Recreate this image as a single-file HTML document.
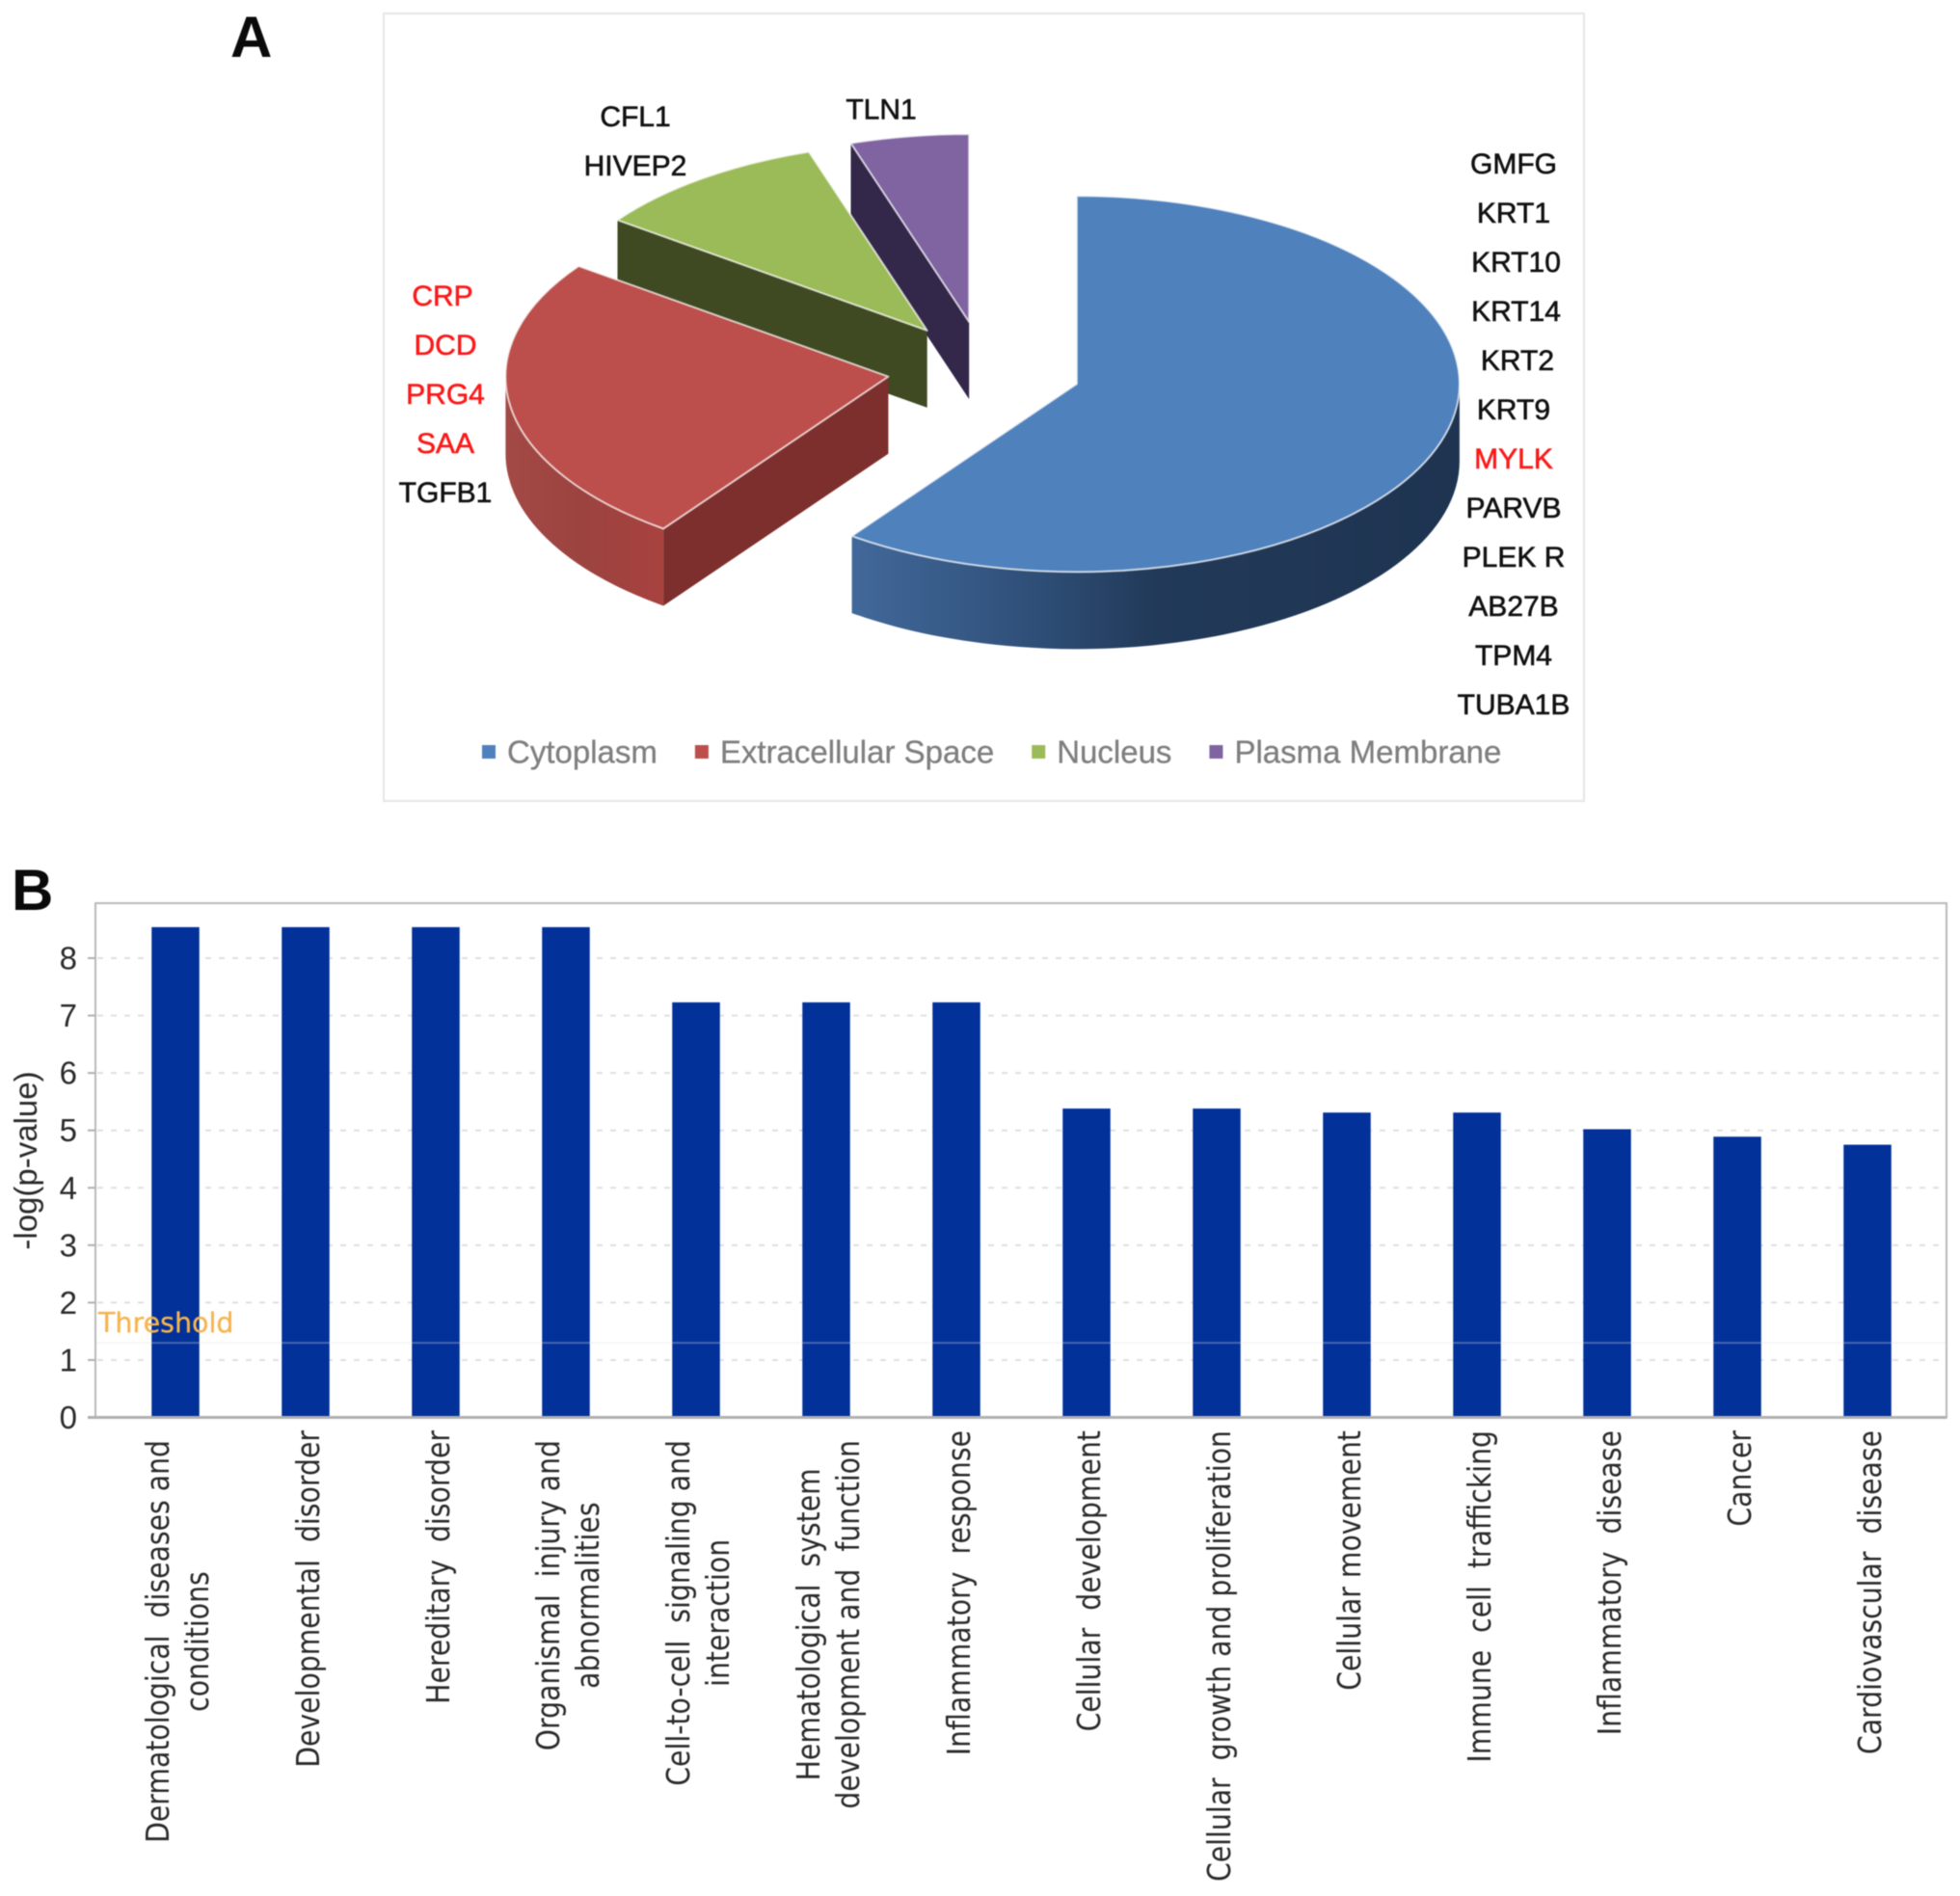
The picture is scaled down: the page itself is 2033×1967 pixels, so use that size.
<!DOCTYPE html>
<html lang="en">
<head>
<meta charset="utf-8">
<title>Subcellular location of proteins and enriched disease and function categories</title>
<style>
html,body{margin:0;padding:0;background:#fff;width:2033px;height:1967px;overflow:hidden}
svg{display:block;filter:blur(.6px)}
.sans{font-family:"Liberation Sans",Arial,sans-serif}
.deja{font-family:"DejaVu Sans",sans-serif}
.gene{font-size:30px;text-anchor:middle;dominant-baseline:central;stroke-width:.6px}
.gene-black{fill:#111;stroke:#111}
.gene-red{fill:#fb1a1a;stroke:#fb1a1a}
.legend-text{font-size:33px;fill:#7f7f7f;stroke:#7f7f7f;stroke-width:.3px;dominant-baseline:central}
.panel{font-size:60px;font-weight:700;fill:#0a0a0a}
.tick{font-size:33px;fill:#2b2b2b;text-anchor:end}
.cat{font-size:33px;fill:#2a2a2a}
</style>
</head>
<body>
<svg id="fig" xmlns="http://www.w3.org/2000/svg" width="2033" height="1967" viewBox="0 0 2033 1967">
  <defs>
    <linearGradient id="side-cytoplasm" gradientUnits="userSpaceOnUse" x1="883" y1="0" x2="1513" y2="0">
      <stop offset="0" stop-color="#42699b"/>
      <stop offset=".3" stop-color="#2f4f78"/>
      <stop offset=".5" stop-color="#223a59"/>
      <stop offset="1" stop-color="#1e3451"/>
    </linearGradient>
    <linearGradient id="side-extracellular" gradientUnits="userSpaceOnUse" x1="524" y1="0" x2="688" y2="0">
      <stop offset="0" stop-color="#a34a47"/>
      <stop offset=".5" stop-color="#9c4340"/>
      <stop offset="1" stop-color="#a8423f"/>
    </linearGradient>
  </defs>
  <rect x="0" y="0" width="2033" height="1967" fill="#fff"/>

  <text class="sans panel" x="239" y="59">A</text>
  <rect x="398" y="14" width="1245" height="817" fill="#fff" stroke="#e6e6e6" stroke-width="2"/>
  <g id="pie"></g>
  <g id="genes" class="sans"></g>
  <g id="legend" class="sans"></g>

  <text class="sans panel" x="12" y="944">B</text>
  <g id="bars"></g>
</svg>
<script>
// ---------- Panel A data ----------
var pieCategories = ['Cytoplasm', 'Extracellular Space', 'Nucleus', 'Plasma Membrane'];
var pieCounts = [12, 5, 2, 1];
var cytoplasmGenes = ['GMFG', 'KRT1', 'KRT10', 'KRT14', 'KRT2', 'KRT9', 'MYLK', 'PARVB', 'PLEK R', 'AB27B', 'TPM4', 'TUBA1B'];
var extracellularGenes = ['CRP', 'DCD', 'PRG4', 'SAA', 'TGFB1'];
var nucleusGenes = ['CFL1', 'HIVEP2'];
var membraneGenes = ['TLN1'];
var redGenes = ['MYLK', 'CRP', 'DCD', 'PRG4', 'SAA'];

// ---------- Panel B data ----------
var barCategories = [
  ['Dermatological  diseases and', 'conditions'],
  ['Developmental  disorder'],
  ['Hereditary  disorder'],
  ['Organismal  injury and', 'abnormalities'],
  ['Cell-to-cell  signaling and', 'interaction'],
  ['Hematological  system', 'development and  function'],
  ['Inflammatory  response'],
  ['Cellular  development'],
  ['Cellular  growth and proliferation'],
  ['Cellular movement'],
  ['Immune  cell  trafficking'],
  ['Inflammatory  disease'],
  ['Cancer'],
  ['Cardiovascular  disease']
];
var barValues = [8.54, 8.54, 8.54, 8.54, 7.23, 7.23, 7.23, 5.38, 5.38, 5.31, 5.31, 5.02, 4.89, 4.75];
var yTickLabels = [0, 1, 2, 3, 4, 5, 6, 7, 8];
var thresholdValue = 1.3;

var NS = 'http://www.w3.org/2000/svg';
function make(tag, attrs, parent, text) {
  var el = document.createElementNS(NS, tag);
  for (var k in attrs) el.setAttribute(k, attrs[k]);
  if (text !== undefined) el.textContent = text;
  parent.appendChild(el);
  return el;
}

// ---------- Pie ----------
var pieGroup = document.getElementById('pie');
var pieTopColors = ['#4f81bd', '#bc4f4b', '#9bbb59', '#8064a2'];
var pieEdgeColors = ['#1f3550', '#7d2f2d', '#3f4a22', '#33274a'];
var pieSideFills = ['url(#side-cytoplasm)', 'url(#side-extracellular)', '#3f4a22', '#33274a'];
var RX = 397, RY = 195, DEPTH = 80;
var PIE_CX = 1021, PIE_CY = 383, EXPLODE = 0.254, EXPLODE_RY = 195;
var pieTotal = pieCounts.reduce(function (a, b) { return a + b; }, 0);

function sliceSpan(i) {
  var before = 0;
  for (var j = 0; j < i; j++) before += pieCounts[j];
  return [before / pieTotal * 2 * Math.PI, (before + pieCounts[i]) / pieTotal * 2 * Math.PI];
}
function rimPoint(c, t, dy) {
  return [c[0] + RX * Math.sin(t), c[1] - RY * Math.cos(t) + (dy || 0)];
}
function f(p) { return p[0].toFixed(1) + ' ' + p[1].toFixed(1); }

function drawSlice(i) {
  var span = sliceSpan(i), a = span[0], b = span[1], mid = (a + b) / 2;
  var c = [PIE_CX + EXPLODE * RX * Math.sin(mid), PIE_CY - EXPLODE * EXPLODE_RY * Math.cos(mid)];
  var slug = pieCategories[i].toLowerCase().replace(/\s+/g, '-');
  var g = make('g', {}, pieGroup);
  
  

  // straight cut faces
  [[a, Math.sin(a) < -1e-6], [b, Math.sin(b) > 1e-6]].forEach(function (edge) {
    if (!edge[1]) return;
    var p = rimPoint(c, edge[0]);
    var face = make('path', {
      d: 'M' + f(c) + ' L' + f(p) + ' L' + f([p[0], p[1] + DEPTH]) + ' L' + f([c[0], c[1] + DEPTH]) + ' Z',
      fill: pieEdgeColors[i]
    }, g);
    
    
  });

  // outer curved wall (front half only)
  var s0 = Math.max(a, Math.PI / 2), s1 = Math.min(b, 3 * Math.PI / 2);
  if (s1 > s0) {
    var large = (s1 - s0) > Math.PI ? 1 : 0;
    var wall = make('path', {
      d: 'M' + f(rimPoint(c, s0)) + ' A' + RX + ' ' + RY + ' 0 ' + large + ' 1 ' + f(rimPoint(c, s1)) +
         ' L' + f(rimPoint(c, s1, DEPTH)) + ' A' + RX + ' ' + RY + ' 0 ' + large + ' 0 ' + f(rimPoint(c, s0, DEPTH)) + ' Z',
      fill: pieSideFills[i]
    }, g);
    
    
  }

  // top surface
  var big = (b - a) > Math.PI ? 1 : 0;
  var topFace = make('path', {
    d: 'M' + f(c) + ' L' + f(rimPoint(c, a)) + ' A' + RX + ' ' + RY + ' 0 ' + big + ' 1 ' + f(rimPoint(c, b)) + ' Z',
    fill: pieTopColors[i],
    stroke: 'rgba(255,255,255,.7)',
    'stroke-width': 2,
    'stroke-linejoin': 'round'
  }, g);
  
  
}
for (var sliceIndex = pieCounts.length - 1; sliceIndex >= 0; sliceIndex--) drawSlice(sliceIndex);

// ---------- Gene labels ----------
var geneGroup = document.getElementById('genes');
var geneNudge = { KRT10: 2.5, KRT14: 2.5, KRT2: 4, CRP: -3 };
function geneColumn(list, x, y0, step) {
  list.forEach(function (gene, k) {
    var cls = redGenes.indexOf(gene) >= 0 ? 'gene gene-red' : 'gene gene-black';
    var t = make('text', { x: x + (geneNudge[gene] || 0), y: y0 + k * step, 'class': cls }, geneGroup, gene);
    
    
  });
}
geneColumn(cytoplasmGenes, 1570, 170.5, 51);
geneColumn(extracellularGenes, 462, 307.5, 51);
geneColumn(nucleusGenes, 659, 121.5, 51);
geneColumn(membraneGenes, 914, 114, 51);

// ---------- Legend ----------
var legendGroup = document.getElementById('legend');
var legendGap = 31, legendX = 500;
pieCategories.forEach(function (cat, k) {
  var g = make('g', {}, legendGroup);
  
  
  var sw = make('rect', { x: legendX, y: 773, width: 14, height: 14, fill: pieTopColors[k] }, g);
  
  
  var t = make('text', { x: legendX + 26, y: 780, 'class': 'legend-text' }, g, cat);
  
  
  legendX += 26 + t.getComputedTextLength() + legendGap + 8;
});

// ---------- Bar chart ----------
var barsGroup = document.getElementById('bars');
var PLOT_L = 99, PLOT_R = 2019, PLOT_T = 937, PLOT_B = 1470.5, UNIT = 59.56;
var BAND_L = 114.5, BAND = 135, BAR_W = 49.5;
function yScale(v) { return PLOT_B - UNIT * v; }
function xScale(i) { return BAND_L + BAND * (i + 0.5); }

var plotBg = make('rect', { x: PLOT_L, y: PLOT_T, width: PLOT_R - PLOT_L, height: PLOT_B - PLOT_T, fill: '#fff', stroke: '#b9b9b9', 'stroke-width': 2 }, barsGroup);



yTickLabels.forEach(function (v) {
  var y = yScale(v);
  if (v > 0) {
    var grid = make('line', { x1: PLOT_L + 2, x2: PLOT_R - 2, y1: y, y2: y, stroke: '#e0e0e0', 'stroke-width': 2, 'stroke-dasharray': '6 8' }, barsGroup);
    
    
  }
  var tick = make('line', { x1: PLOT_L - 8, x2: PLOT_L, y1: y, y2: y, stroke: '#b0b0b0', 'stroke-width': 2 }, barsGroup);
  
  
  var label = make('text', { x: 80, y: y + 11.5, 'class': 'sans tick' }, barsGroup, String(v));
  
  
});

barValues.forEach(function (v, i) {
  var bar = make('rect', { x: xScale(i) - BAR_W / 2, y: yScale(v), width: BAR_W, height: yScale(0) - yScale(v), fill: '#03319a' }, barsGroup);
  
  
});

var baseAxis = make('line', { x1: PLOT_L - 8, x2: PLOT_R, y1: PLOT_B, y2: PLOT_B, stroke: '#b0b0b0', 'stroke-width': 3 }, barsGroup);



var thLine = make('line', { x1: PLOT_L + 1, x2: PLOT_R - 1, y1: yScale(thresholdValue), y2: yScale(thresholdValue), stroke: 'rgba(225,225,225,.3)', 'stroke-width': 2 }, barsGroup);



var thText = make('text', { x: 102, y: 1382, 'class': 'deja', 'font-size': 28.5, fill: '#f6b44e', stroke: '#f6b44e', 'stroke-width': .3 }, barsGroup, 'Threshold');



var yTitle = make('text', { transform: 'translate(38 1204) rotate(-90)', 'text-anchor': 'middle', 'class': 'sans', 'font-size': 33, fill: '#2a2a2a' }, barsGroup, '-log(p-value)');



// x category labels: rotated, top-aligned at the axis, wrapped lines centred
var LABEL_TOP = 1484, WIDTH_SCALE = 0.858;
barCategories.forEach(function (lines, i) {
  var g = make('g', {}, barsGroup);
  
  
  var cx = xScale(i) + 2;
  var two = lines.length > 1;
  var els = lines.map(function (line, k) {
    var baseline = cx + 12 + (two ? (k === 0 ? -21 : 20) : 0);
    var t = make('text', { 'class': 'deja cat', style: 'white-space:pre' }, g, line);
    
    
    return { el: t, baseline: baseline, len: t.getComputedTextLength() * WIDTH_SCALE };
  });
  var longest = Math.max.apply(null, els.map(function (o) { return o.len; }));
  var labelTop = two ? LABEL_TOP + 10 : LABEL_TOP;
  els.forEach(function (o) {
    var yEnd = labelTop + (longest - o.len) / 2;
    o.el.setAttribute('text-anchor', 'end');
    o.el.setAttribute('transform', 'translate(' + o.baseline + ' ' + yEnd + ') rotate(-90) scale(' + WIDTH_SCALE + ' 1)');
  });
});
</script>
</body>
</html>
